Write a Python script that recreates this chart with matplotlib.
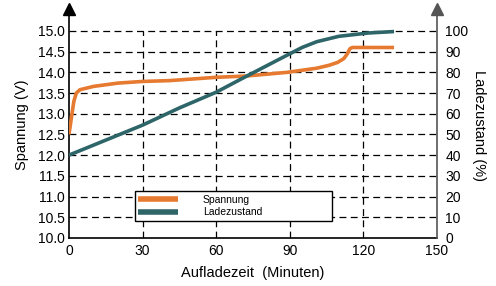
import matplotlib
matplotlib.use('Agg')
import matplotlib.pyplot as plt

plt.rcParams['font.family'] = ['Liberation Sans', 'DejaVu Sans']

# Spannung (V) ueber Aufladezeit (min)
t_volt = [0, 1, 2, 3, 4.5, 10, 20, 30, 41, 60, 72, 89, 101, 106, 109.5, 112, 113.5, 114.5, 115.5, 132.5]
volt = [12.5, 12.9, 13.3, 13.5, 13.58, 13.66, 13.74, 13.78, 13.8, 13.88, 13.91, 14.0, 14.1, 14.17, 14.24, 14.33, 14.45, 14.57, 14.6, 14.6]

# Ladezustand (%) ueber Aufladezeit (min)
t_soc = [0, 30, 45, 60, 72, 86, 95, 101, 110, 122, 132.5]
soc = [40, 54.5, 62.8, 70.4, 77.9, 86.5, 92, 94.8, 97.4, 99, 99.7]

x_ticks = [0, 30, 60, 90, 120, 150]
v_ticks = [10.0, 10.5, 11.0, 11.5, 12.0, 12.5, 13.0, 13.5, 14.0, 14.5, 15.0]
soc_ticks = [0, 10, 20, 30, 40, 50, 60, 70, 80, 90, 100]

orange = '#E67A30'
teal = '#2D6569'

fig = plt.figure(figsize=(4.96, 2.86), dpi=100)
ax = fig.add_axes([0.139, 0.168, 0.742, 0.789])
ax2 = ax.twinx()

ytop = 15.45
ax.set_xlim(0, 150)
ax.set_ylim(10, ytop)
ax2.set_ylim(0, (ytop - 10) * 20)

# dashed grid, vertical lines only up to 15.0
dash = dict(color='black', lw=0.9, linestyle=(0, (5.5, 3.5)), zorder=1)
ax.hlines(v_ticks[1:], 0, 150, **dash)
ax.vlines(x_ticks[1:-1], 10, 15, **dash)

l1, = ax.plot(t_volt, volt, color=orange, lw=2.6, solid_capstyle='butt', zorder=3, label='Spannung')
l2, = ax2.plot(t_soc, soc, color=teal, lw=2.6, solid_capstyle='butt', zorder=3, label='Ladezustand')

ax.set_xticks(x_ticks)
ax.set_yticks(v_ticks)
ax.set_yticklabels([f'{v:.1f}' for v in v_ticks])
ax2.set_yticks(soc_ticks)
ax.tick_params(length=0, labelsize=10, pad=3)
ax2.tick_params(length=0, labelsize=10, pad=6)
ax.tick_params(axis='x', pad=4)

for a in (ax, ax2):
    a.spines['top'].set_visible(False)
ax.spines['right'].set_visible(False)
ax2.spines['left'].set_visible(False)
ax2.spines['bottom'].set_visible(False)
ax2.spines['right'].set_color('#555555')
ax.spines['left'].set_linewidth(1.2)
ax.spines['bottom'].set_linewidth(1.2)
ax2.spines['right'].set_linewidth(1.2)

# arrow heads on top of the vertical axes
ax.plot([0], [ytop + 0.08], marker='^', markersize=9, color='black', clip_on=False, zorder=5)
ax2.plot([150], [(ytop + 0.08 - 10) * 20], marker='^', markersize=9, color='#555555', clip_on=False, zorder=5)

ax.set_xlabel('Aufladezeit  (Minuten)', fontsize=10.5, labelpad=6)
ax.set_ylabel('Spannung (V)', fontsize=10.5, labelpad=6)
ax2.set_ylabel('Ladezustand (%)', fontsize=10.5, rotation=270, labelpad=13)

leg = ax2.legend(handles=[l1, l2], loc='lower left', bbox_to_anchor=(0.179, 0.075, 0.536, 0.142),
                 mode='expand', fontsize=7.5, frameon=True, fancybox=False, framealpha=1,
                 edgecolor='black', handlelength=3.8, handletextpad=2.4, labelspacing=0.25,
                 borderpad=0.35, borderaxespad=0)
leg.get_frame().set_linewidth(1.0)
for h in leg.get_lines():
    h.set_linewidth(4)

fig.savefig('out.png', dpi=100)
